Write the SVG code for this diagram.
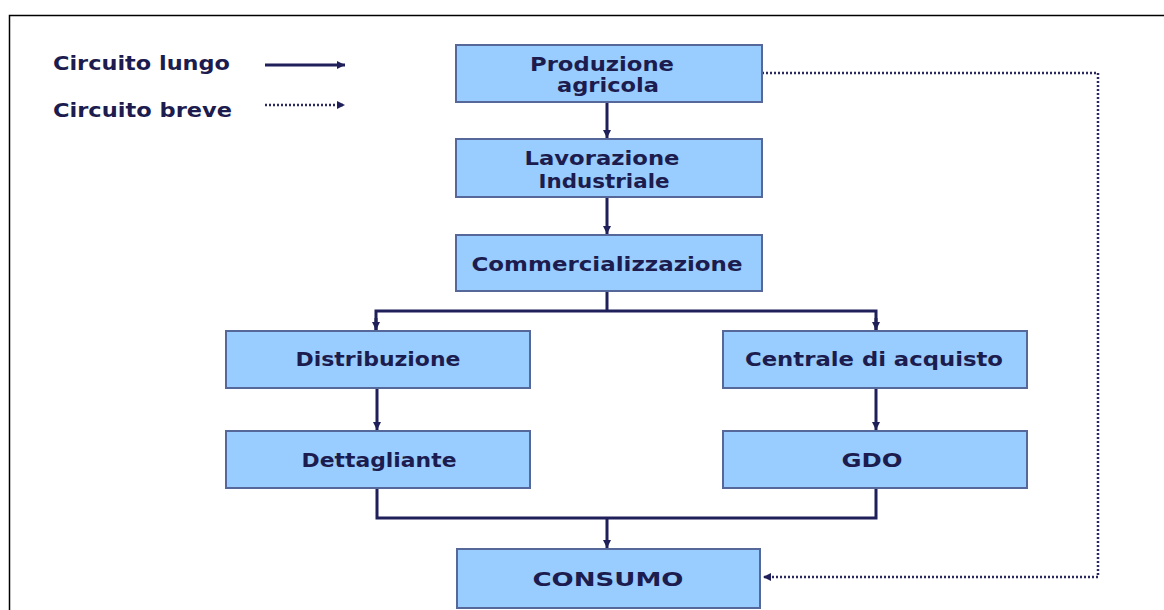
<svg xmlns="http://www.w3.org/2000/svg" width="1164" height="610" viewBox="0 0 1164 610">
<style>
.box{fill:#99ccff;stroke:#56679a;stroke-width:2}
.t{font-family:"DejaVu Sans","Verdana",sans-serif;font-weight:bold;font-size:19px;fill:#1c1c4e;text-anchor:middle}
.lt{font-family:"DejaVu Sans","Verdana",sans-serif;font-weight:bold;font-size:19px;fill:#1c1c4e}
.c{fill:none;stroke:#1f1f5a;stroke-width:3}
.d{fill:none;stroke:#2a2a60;stroke-width:2.5;stroke-dasharray:2 2}
</style>
<defs>
<marker id="ah" viewBox="0 0 10 10" refX="10" refY="5" markerWidth="8" markerHeight="8" markerUnits="userSpaceOnUse" orient="auto">
<path d="M0,0 L10,5 L0,10 Z" fill="#1f1f5a"/>
</marker>
</defs>
<rect x="0" y="0" width="1164" height="610" fill="#ffffff"/>
<path d="M9.5,610 V15.5 H1164" fill="none" stroke="#000000" stroke-width="1.5"/>
<g id="legend">
<text class="lt" x="53" y="70" textLength="177" lengthAdjust="spacingAndGlyphs">Circuito lungo</text>
<text class="lt" x="53" y="117" textLength="179" lengthAdjust="spacingAndGlyphs">Circuito breve</text>
<line class="c" x1="265" y1="65" x2="345" y2="65" stroke-width="2" marker-end="url(#ah)"/>
<line class="d" x1="265" y1="105" x2="345" y2="105" stroke-width="2" marker-end="url(#ah)"/>
</g>
<g id="connectors">
<line class="c" x1="607" y1="102" x2="607" y2="138" marker-end="url(#ah)"/>
<line class="c" x1="607" y1="197" x2="607" y2="234" marker-end="url(#ah)"/>
<path class="c" d="M607,291 V311"/>
<path class="c" d="M376,330 V311 H876 V330"/>
<line class="c" x1="376" y1="318" x2="376" y2="330" marker-end="url(#ah)"/>
<line class="c" x1="876" y1="318" x2="876" y2="330" marker-end="url(#ah)"/>
<line class="c" x1="377" y1="388" x2="377" y2="430" marker-end="url(#ah)"/>
<line class="c" x1="876" y1="388" x2="876" y2="430" marker-end="url(#ah)"/>
<path class="c" d="M377,488 V518 H876 V488"/>
<line class="c" x1="607" y1="518" x2="607" y2="548" marker-end="url(#ah)"/>
<path class="d" d="M762,73 H1098 V577 H763" marker-end="url(#ah)"/>
</g>
<g id="produzione">
<rect class="box" x="456" y="45" width="306" height="57"/>
<text class="t" x="602" y="71" textLength="144" lengthAdjust="spacingAndGlyphs">Produzione</text>
<text class="t" x="608" y="92" textLength="102" lengthAdjust="spacingAndGlyphs">agricola</text>
</g>
<g id="lavorazione">
<rect class="box" x="456" y="139" width="306" height="58"/>
<text class="t" x="602" y="165" textLength="155" lengthAdjust="spacingAndGlyphs">Lavorazione</text>
<text class="t" x="604" y="188" textLength="131" lengthAdjust="spacingAndGlyphs">Industriale</text>
</g>
<g id="commercializzazione">
<rect class="box" x="456" y="235" width="306" height="56"/>
<text class="t" x="607" y="271" textLength="271" lengthAdjust="spacingAndGlyphs">Commercializzazione</text>
</g>
<g id="distribuzione">
<rect class="box" x="226" y="331" width="304" height="57"/>
<text class="t" x="378" y="366" textLength="165" lengthAdjust="spacingAndGlyphs">Distribuzione</text>
</g>
<g id="centrale">
<rect class="box" x="723" y="331" width="304" height="57"/>
<text class="t" x="874" y="366" textLength="258" lengthAdjust="spacingAndGlyphs">Centrale di acquisto</text>
</g>
<g id="dettagliante">
<rect class="box" x="226" y="431" width="304" height="57"/>
<text class="t" x="379" y="467" textLength="155" lengthAdjust="spacingAndGlyphs">Dettagliante</text>
</g>
<g id="gdo">
<rect class="box" x="723" y="431" width="304" height="57"/>
<text class="t" x="872" y="467" textLength="61" lengthAdjust="spacingAndGlyphs">GDO</text>
</g>
<g id="consumo">
<rect class="box" x="457" y="549" width="303" height="59"/>
<text class="t" x="608" y="586" textLength="151" lengthAdjust="spacingAndGlyphs">CONSUMO</text>
</g>
</svg>
